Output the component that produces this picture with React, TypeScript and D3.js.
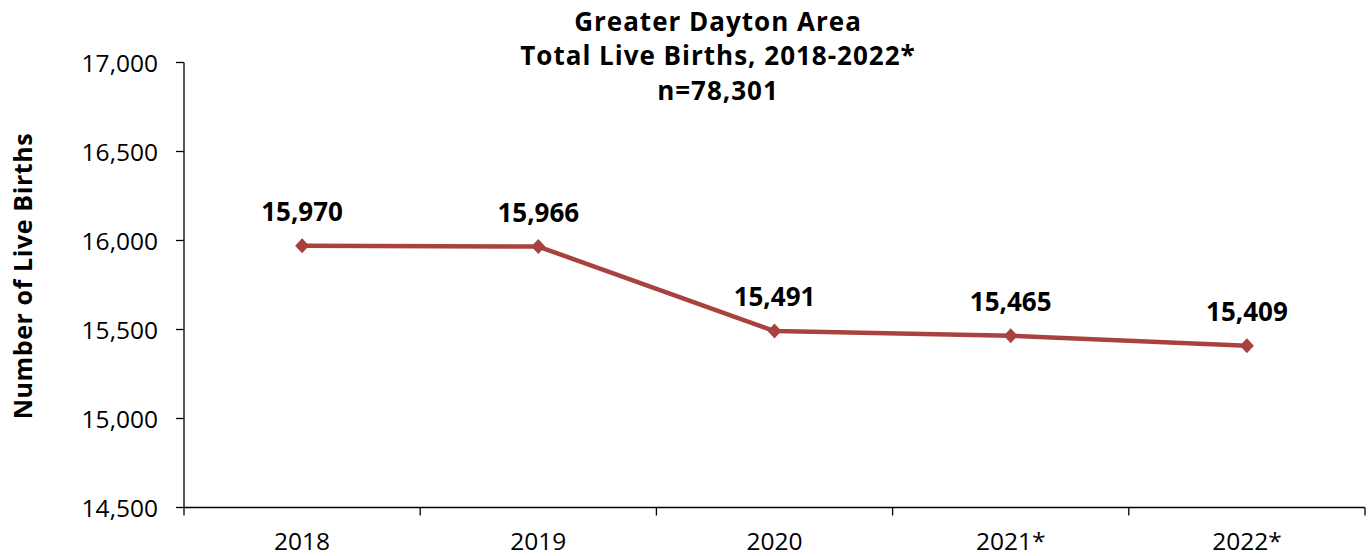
import React from "react";
import * as d3 from "d3";

const categories = ["2018", "2019", "2020", "2021*", "2022*"];
const births = [15970, 15966, 15491, 15465, 15409];
const yTicks = [14500, 15000, 15500, 16000, 16500, 17000];
const titleLines = ["Greater Dayton Area", "Total Live Births, 2018-2022*", "n=78,301"];
const yAxisTitle = "Number of Live Births";

const W = 1370;
const H = 556;
const left = 184;
const right = 1365;
const top = 62.5;
const bottom = 507.5;
const font = "'Open Sans', 'Noto Sans', sans-serif";
const lineColor = "#A8423F";

export default function App() {
  const x = d3.scaleBand<string>().domain(categories).range([left, right]).padding(0);
  const y = d3.scaleLinear().domain([14500, 17000]).range([bottom, top]);
  const fmt = d3.format(",");
  const pts = categories.map((c, i) => [x(c)! + x.bandwidth() / 2, y(births[i])] as [number, number]);
  const line = d3.line()(pts) || "";
  const boundaries = [...categories.map((c) => x(c)!), right];

  return (
    <svg width={W} height={H} style={{ position: "absolute", left: 0, top: 0, fontFamily: font }}>
      <rect width={W} height={H} fill="#fff" />
      {titleLines.map((t, i) => (
        <text key={i} x={718} y={30.5 + i * 34.5} textAnchor="middle" fontSize={26} fontWeight="bold" letterSpacing={1} fill="#000">
          {t}
        </text>
      ))}
      <text
        transform={`translate(32,276) rotate(-90)`}
        textAnchor="middle"
        fontSize={25}
        fontWeight="bold"
        letterSpacing={0.6}
        fill="#000"
      >
        {yAxisTitle}
      </text>
      {/* y axis */}
      <line x1={left} x2={left} y1={top} y2={bottom} stroke="#000" strokeWidth={1.3} />
      {yTicks.map((t) => (
        <g key={t}>
          <line x1={left - 8} x2={left} y1={y(t)} y2={y(t)} stroke="#000" strokeWidth={1.3} />
          <text x={left - 26} y={y(t) + 9} textAnchor="end" fontSize={24.5} fill="#000">
            {fmt(t)}
          </text>
        </g>
      ))}
      {/* x axis */}
      <line x1={left} x2={right} y1={bottom} y2={bottom} stroke="#000" strokeWidth={1.3} />
      {boundaries.map((b, i) => (
        <line key={i} x1={b} x2={b} y1={bottom} y2={bottom + 8} stroke="#000" strokeWidth={1.3} />
      ))}
      {categories.map((c) => (
        <text key={c} x={x(c)! + x.bandwidth() / 2} y={bottom + 42} textAnchor="middle" fontSize={24.5} fill="#000">
          {c}
        </text>
      ))}
      <path d={line} fill="none" stroke={lineColor} strokeWidth={4.5} strokeLinejoin="round" />
      {pts.map((p, i) => (
        <g key={i}>
          <path
            d={`M${p[0]},${p[1] - 7.5}L${p[0] + 7},${p[1]}L${p[0]},${p[1] + 7.5}L${p[0] - 7},${p[1]}Z`}
            fill={lineColor}
          />
          <text x={p[0]} y={p[1] - 25} textAnchor="middle" fontSize={26} fontWeight="bold" fill="#000">
            {fmt(births[i])}
          </text>
        </g>
      ))}
    </svg>
  );
}
